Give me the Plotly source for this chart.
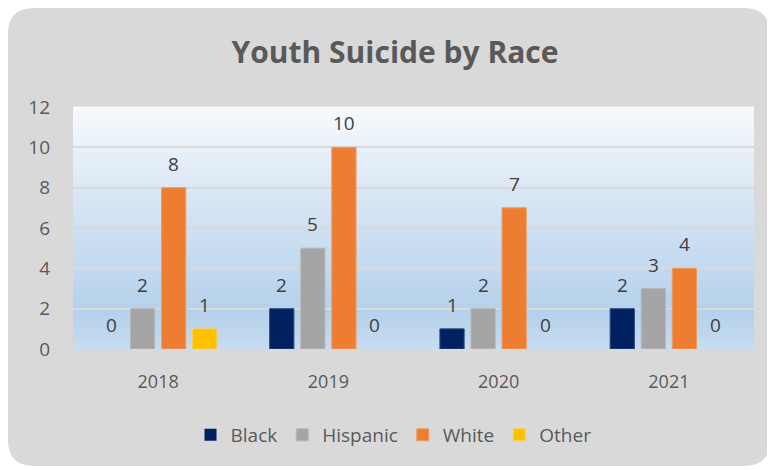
import plotly.graph_objects as go

years = ["2018", "2019", "2020", "2021"]
black = [0, 2, 1, 2]
hispanic = [2, 5, 2, 3]
white = [8, 10, 7, 4]
other = [1, 0, 0, 0]

series = [
    ("Black", black, "#002060", "#2a4a80"),
    ("Hispanic", hispanic, "#a5a5a5", "#b8b8b8"),
    ("White", white, "#ed7d31", "#f29a5e"),
    ("Other", other, "#ffc000", "#ffd04d"),
]

# the page has an 8px body margin, so the figure is a bit smaller than the window
W, H = 767, 462
L, R, T, B = 65, 21, 99, 121
pw, ph = W - L - R, H - T - B
BARGAP, GROUPGAP = 0.27, 0.22

def px_x(x):
    return (x - L) / pw

def px_y(y):
    return (H - B - y) / ph

fig = go.Figure()
annotations = []
slot = pw / len(years) * (1 - BARGAP) / len(series)
for k, (name, vals, col, edge) in enumerate(series):
    fig.add_trace(go.Bar(
        x=years, y=vals, name=name,
        marker=dict(color=col, line=dict(color=edge, width=[1 if v else 0 for v in vals])),
    ))
    # numeric-looking category names would be read as indices, so use the index
    for j, v in enumerate(vals):
        annotations.append(dict(x=j, y=v, text=str(v), showarrow=False,
                                xshift=(k - 1.5) * slot, yshift=24, yanchor="middle",
                                font=dict(size=19, color="#404040")))

# rounded gray panel
x0, x1, y0, y1, r = 0, 762, 0, 458, 26
path = (f"M {px_x(x0 + r)},{px_y(y0)} L {px_x(x1 - r)},{px_y(y0)} "
        f"Q {px_x(x1)},{px_y(y0)} {px_x(x1)},{px_y(y0 + r)} "
        f"L {px_x(x1)},{px_y(y1 - r)} Q {px_x(x1)},{px_y(y1)} {px_x(x1 - r)},{px_y(y1)} "
        f"L {px_x(x0 + r)},{px_y(y1)} Q {px_x(x0)},{px_y(y1)} {px_x(x0)},{px_y(y1 - r)} "
        f"L {px_x(x0)},{px_y(y0 + r)} Q {px_x(x0)},{px_y(y0)} {px_x(x0 + r)},{px_y(y0)} Z")
shapes = [dict(type="path", path=path, xref="paper", yref="paper",
               fillcolor="#d9d9d9", line=dict(width=0), layer="below")]

# plot-area gradient as thin stripes
stops = [(0.0, (200, 221, 241)), (0.15, (180, 208, 235)), (0.35, (196, 218, 240)),
         (0.65, (218, 231, 245)), (1.0, (247, 250, 253))]

def grad(t):
    for (a, ca), (b, cb) in zip(stops, stops[1:]):
        if a <= t <= b:
            f = (t - a) / (b - a)
            c = [round(ca[i] + (cb[i] - ca[i]) * f) for i in range(3)]
            return f"rgb({c[0]},{c[1]},{c[2]})"
    return "white"

n = 80
for i in range(n):
    shapes.append(dict(type="rect", xref="x domain", yref="y domain",
                       x0=0, x1=1, y0=i / n, y1=(i + 1) / n + 0.002,
                       fillcolor=grad((i + 0.5) / n), line=dict(width=0), layer="below"))

fig.update_layout(
    width=W, height=H,
    margin=dict(l=L, r=R, t=T, b=B),
    paper_bgcolor="white", plot_bgcolor="rgba(0,0,0,0)",
    shapes=shapes, annotations=annotations,
    title=dict(text="<b>Youth Suicide by Race</b>", x=px_x(387), xanchor="center",
               xref="paper", y=1 - 44 / H, yanchor="middle",
               font=dict(family="Open Sans", size=30, color="#595959")),
    font=dict(family="Open Sans", color="#595959"),
    barmode="group", bargap=BARGAP, bargroupgap=GROUPGAP,
    xaxis=dict(type="category", showgrid=False, showline=False, ticks="", ticklabelstandoff=20,
               tickfont=dict(size=18, color="#595959")),
    yaxis=dict(range=[0, 12], dtick=2, showgrid=True, gridcolor="#d9d9d9", gridwidth=2,
               zeroline=False, showline=False, ticks="", ticklabelstandoff=22,
               tickfont=dict(size=19, color="#595959")),
    legend=dict(orientation="h", x=0.5 - 20 / pw, xanchor="center", y=px_y(427), yanchor="middle",
                font=dict(size=19, color="#595959"), bgcolor="rgba(0,0,0,0)",
                itemwidth=30, traceorder="normal"),
    showlegend=True,
)

fig.write_html("out.html")
